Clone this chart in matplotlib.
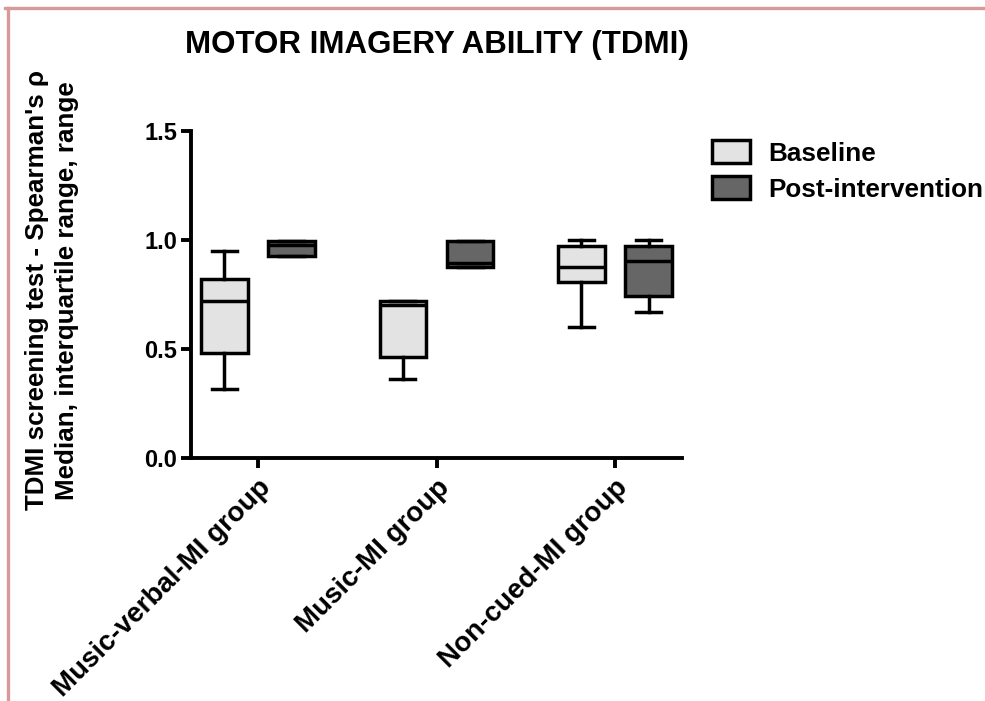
import matplotlib
matplotlib.use("Agg")
import matplotlib.pyplot as plt
from matplotlib import font_manager
from matplotlib.lines import Line2D
from matplotlib.patches import Patch

groups = ["Music-verbal-MI group", "Music-MI group", "Non-cued-MI group"]
conditions = ["Baseline", "Post-intervention"]

# box statistics (range and interquartile range)
base_min = [0.317, 0.364, 0.602]
base_q1 = [0.482, 0.463, 0.806]
base_med = [0.720, 0.700, 0.875]
base_q3 = [0.821, 0.722, 0.974]
base_max = [0.950, 0.722, 1.000]

post_min = [0.927, 0.877, 0.669]
post_q1 = [0.927, 0.877, 0.745]
post_med = [0.978, 0.896, 0.902]
post_q3 = [0.997, 0.995, 0.974]
post_max = [0.997, 0.995, 1.000]

colors = ["#e3e3e3", "#666666"]

names = {f.name for f in font_manager.fontManager.ttflist}
narrow = "Liberation Sans Narrow" if "Liberation Sans Narrow" in names else "Liberation Sans"
plt.rcParams["font.family"] = ["Liberation Sans", "DejaVu Sans"]
plt.rcParams["font.weight"] = "bold"

lw = 2.5
fig = plt.figure(figsize=(9.85, 7.01), dpi=100)
ax = fig.add_axes([0.1939, 0.3466, 0.4985, 0.4665])


def make_stats(lo, q1, med, q3, hi):
    return [dict(whislo=a, q1=b, med=c, q3=d, whishi=e, fliers=[])
            for a, b, c, d, e in zip(lo, q1, med, q3, hi)]


series = [
    make_stats(base_min, base_q1, base_med, base_q3, base_max),
    make_stats(post_min, post_q1, post_med, post_q3, post_max),
]
offsets = [-0.188, 0.188]
x = list(range(len(groups)))

for stats, off, col in zip(series, offsets, colors):
    ax.bxp(
        stats,
        positions=[i + off for i in x],
        widths=0.26,
        capwidths=0.14,
        patch_artist=True,
        showfliers=False,
        manage_ticks=False,
        boxprops=dict(facecolor=col, edgecolor="black", linewidth=lw),
        medianprops=dict(color="black", linewidth=lw),
        whiskerprops=dict(color="black", linewidth=lw),
        capprops=dict(color="black", linewidth=lw),
    )

ax.set_xlim(-0.375, 2.375)
ax.set_ylim(0, 1.5)
ax.set_yticks([0, 0.5, 1.0, 1.5])
ax.set_yticklabels(["0.0", "0.5", "1.0", "1.5"])
ax.set_xticks(x)
ax.set_xticklabels(groups, rotation=45, ha="right", rotation_mode="anchor")
for s in ["top", "right"]:
    ax.spines[s].set_visible(False)
for s in ["left", "bottom"]:
    ax.spines[s].set_linewidth(2.8)
ax.tick_params(axis="both", width=2.8, length=7, labelsize=17, pad=3)
ax.tick_params(axis="x", pad=5, labelsize=20)
for t in ax.get_xticklabels() + ax.get_yticklabels():
    t.set_fontweight("bold")

ax.set_title("MOTOR IMAGERY ABILITY (TDMI)", family=[narrow, "DejaVu Sans"],
             fontsize=22.5, fontweight="bold", pad=56)

fig.text(0.053, 0.586, "TDMI screening test - Spearman's \u03c1\nMedian, interquartile range, range",
         rotation=90, ha="center", va="center", multialignment="center",
         fontsize=18.7, fontweight="bold", linespacing=1.3)

handles = [Patch(facecolor=c, edgecolor="black", linewidth=lw) for c in colors]
fig.legend(handles, conditions, loc="upper left", bbox_to_anchor=(0.7228, 0.8003),
           frameon=False, borderpad=0, borderaxespad=0,
           handlelength=1.45, handleheight=1.0, handletextpad=0.7, labelspacing=0.4,
           prop=dict(weight="bold", size=18.8))

# pink frame at the top and left edge
border = "#d99999"
fig.add_artist(Line2D([5 / 985, 1], [1 - 8 / 701, 1 - 8 / 701], color=border, lw=2.4,
                      transform=fig.transFigure))
fig.add_artist(Line2D([8 / 985, 8 / 985], [0, 1 - 8 / 701], color=border, lw=2.4,
                      transform=fig.transFigure))

fig.savefig("out.png", dpi=100)
